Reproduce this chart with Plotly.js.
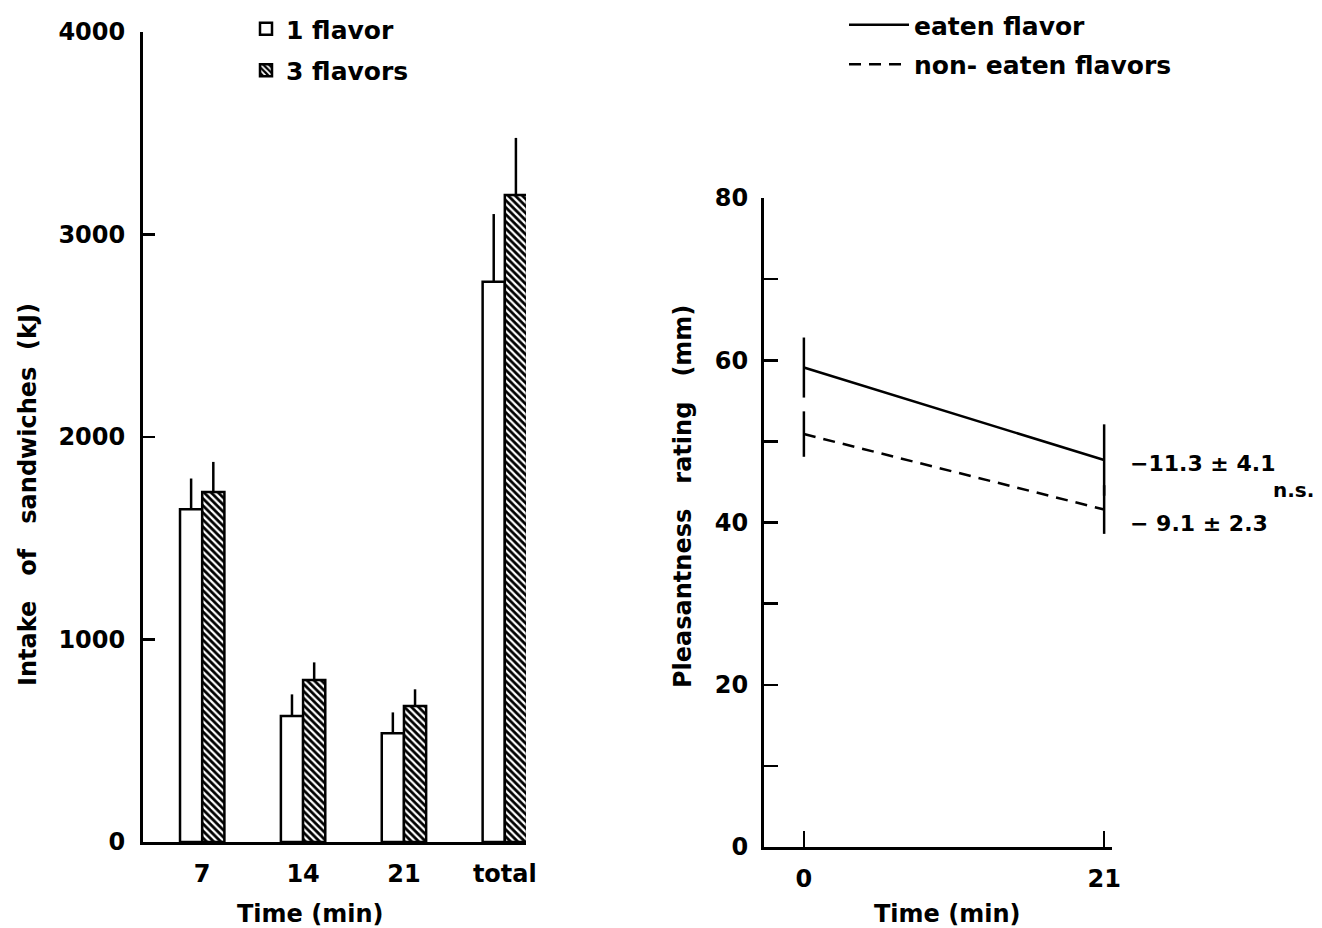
<!DOCTYPE html>
<html>
<head>
<meta charset="utf-8">
<script src="https://cdn.plot.ly/plotly-3.0.1.min.js"></script>
<style>html,body{margin:0;padding:0;background:#fff;}#chart{width:1322px;height:928px;}</style>
</head>
<body>
<div id="chart"></div>
<script>
// ---- Left panel data: intake of sandwiches (kJ)
var categories = ['7', '14', '21', 'total'];
var oneFlavor = [1643, 622, 537, 2767];
var oneFlavorErr = [152, 107, 103, 334];
var threeFlavors = [1729, 800, 672, 3195];
var threeFlavorsErr = [148, 87, 82, 282];

// ---- Right panel data: pleasantness rating (mm)
var times = [0, 21];
var eaten = [59.1, 47.7];
var eatenErr = [3.7, 4.4];
var nonEaten = [50.9, 41.6];
var nonEatenErr = [2.8, 3.0];

// ---- Text
var leftYTitle = 'Intake\u00a0\u00a0\u00a0of\u00a0\u00a0\u00a0sandwiches\u00a0\u00a0(kJ)';
var rightYTitle = 'Pleasantness\u00a0\u00a0\u00a0rating\u00a0\u00a0\u00a0(mm)';
var xTitle = 'Time (min)';

var zeros = categories.map(function () { return 0; });
var FONT = 'DejaVu Sans';
var baseFont = {family: FONT, size: 24, color: '#000', weight: 'bold'};
var legFont = {family: FONT, size: 25, color: '#000', weight: 'bold'};
var noteFont = {family: FONT, size: 22, color: '#000', weight: 'bold'};
var W = 1322, H = 928;
function px(x) { return x / W; }
function py(y) { return 1 - y / H; }

var traces = [
  {
    type: 'bar', name: '1 flavor', x: categories, y: oneFlavor,
    xaxis: 'x', yaxis: 'y', legend: 'legend', legendgroup: 'a',
    marker: {color: '#fff', line: {color: '#000', width: 2.5}},
    error_y: {type: 'data', symmetric: false, array: oneFlavorErr, arrayminus: zeros,
              color: '#000', thickness: 2.5, width: 0}
  },
  {
    type: 'bar', name: '3 flavors', x: categories, y: threeFlavors,
    xaxis: 'x', yaxis: 'y', legend: 'legend', legendgroup: 'b',
    marker: {color: '#000', line: {color: '#000', width: 2.5},
             pattern: {shape: '\\', bgcolor: '#000', fgcolor: '#fff', size: 5, solidity: 0.45}},
    error_y: {type: 'data', symmetric: false, array: threeFlavorsErr, arrayminus: zeros,
              color: '#000', thickness: 2.5, width: 0}
  },
  {
    type: 'scatter', mode: 'lines', name: 'eaten flavor', x: times, y: eaten,
    xaxis: 'x2', yaxis: 'y2', legend: 'legend2', legendgroup: 'c',
    line: {color: '#000', width: 2.5},
    error_y: {type: 'data', array: eatenErr, color: '#000', thickness: 2.5, width: 0}
  },
  {
    type: 'scatter', mode: 'lines', name: 'non- eaten flavors', x: times, y: nonEaten,
    xaxis: 'x2', yaxis: 'y2', legend: 'legend2', legendgroup: 'd',
    line: {color: '#000', width: 2.5, dash: '12px,8px'},
    error_y: {type: 'data', array: nonEatenErr, color: '#000', thickness: 2.5, width: 0}
  }
];

var layout = {
  width: W, height: H,
  margin: {l: 0, r: 0, t: 0, b: 0},
  paper_bgcolor: '#fff', plot_bgcolor: '#fff',
  font: baseFont,
  barmode: 'group', bargap: 0.56, bargroupgap: 0,
  xaxis: {
    domain: [px(143), px(526)], anchor: 'y',
    type: 'category', range: [-0.587, 3.21],
    showline: true, linecolor: '#000', linewidth: 3,
    ticks: '', showgrid: false, zeroline: false,
    tickfont: baseFont, ticklabelstandoff: 8,
    title: {text: ''}
  },
  yaxis: {
    domain: [py(842), py(32)], anchor: 'x',
    range: [0, 4000], tickvals: [0, 1000, 2000, 3000, 4000],
    showline: true, linecolor: '#000', linewidth: 3,
    ticks: 'inside', ticklen: 12, tickwidth: 2.5, tickcolor: '#000',
    showgrid: false, zeroline: false, tickfont: baseFont, ticklabelstandoff: 10,
    title: {text: ''}
  },
  xaxis2: {
    domain: [px(764), px(1112)], anchor: 'y2',
    range: [-2.79, 21.55], tickvals: [0, 21],
    showline: true, linecolor: '#000', linewidth: 3,
    ticks: 'inside', ticklen: 16, tickwidth: 2.5, tickcolor: '#000',
    showgrid: false, zeroline: false, tickfont: baseFont, ticklabelstandoff: 8,
    title: {text: ''}
  },
  yaxis2: {
    domain: [py(847), py(198)], anchor: 'x2',
    range: [0, 80], tickvals: [0, 20, 40, 60, 80],
    showline: true, linecolor: '#000', linewidth: 3,
    ticks: 'inside', ticklen: 14, tickwidth: 2.5, tickcolor: '#000',
    minor: {tickvals: [10, 30, 50, 70], ticks: 'inside', ticklen: 14, tickwidth: 2.5, tickcolor: '#000', showgrid: false},
    showgrid: false, zeroline: false, tickfont: baseFont, ticklabelstandoff: 8,
    title: {text: ''}
  },
  legend: {
    x: px(246), y: py(6), xanchor: 'left', yanchor: 'top',
    bgcolor: 'rgba(0,0,0,0)', font: legFont, tracegroupgap: 6,
    traceorder: 'grouped'
  },
  legend2: {
    x: px(844), y: py(2), xanchor: 'left', yanchor: 'top',
    bgcolor: 'rgba(0,0,0,0)', font: legFont, tracegroupgap: 4,
    traceorder: 'grouped', itemwidth: 60
  },
  annotations: [
    {xref: 'paper', yref: 'paper', x: px(28), y: py(495), xanchor: 'center', yanchor: 'middle',
     text: leftYTitle, textangle: -90, showarrow: false, font: baseFont},
    {xref: 'paper', yref: 'paper', x: px(683), y: py(497), xanchor: 'center', yanchor: 'middle',
     text: rightYTitle, textangle: -90, showarrow: false, font: baseFont},
    {xref: 'paper', yref: 'paper', x: px(310), y: py(914), xanchor: 'center', yanchor: 'middle',
     text: xTitle, showarrow: false, font: baseFont},
    {xref: 'paper', yref: 'paper', x: px(947), y: py(914), xanchor: 'center', yanchor: 'middle',
     text: xTitle, showarrow: false, font: baseFont},
    {xref: 'paper', yref: 'paper', x: px(1128), y: py(463), xanchor: 'left', yanchor: 'middle',
     text: '\u221211.3 \u00b1 4.1', showarrow: false, font: noteFont},
    {xref: 'paper', yref: 'paper', x: px(1128), y: py(523), xanchor: 'left', yanchor: 'middle',
     text: '\u2212 9.1 \u00b1 2.3', showarrow: false, font: noteFont},
    {xref: 'paper', yref: 'paper', x: px(1271), y: py(490), xanchor: 'left', yanchor: 'middle',
     text: 'n.s.', showarrow: false, font: {family: FONT, size: 20, color: '#000', weight: 'bold'}}
  ],
  showlegend: true
};

Plotly.newPlot('chart', traces, layout, {displayModeBar: false, staticPlot: true});
</script>
</body>
</html>
